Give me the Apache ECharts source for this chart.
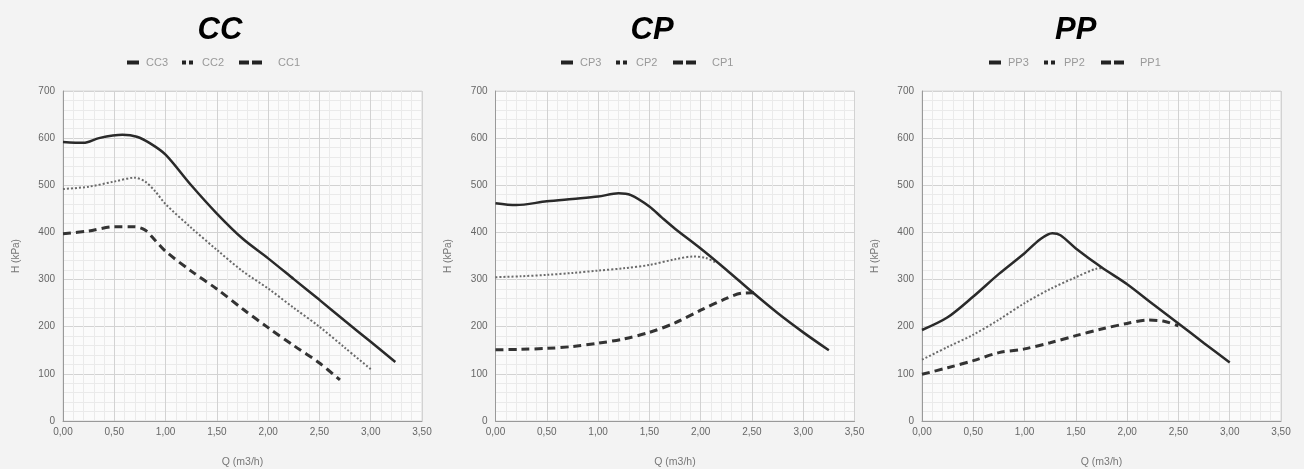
<!DOCTYPE html>
<html>
<head>
<meta charset="utf-8">
<script src="https://cdn.jsdelivr.net/npm/echarts@6/dist/echarts.min.js"></script>
<style>
  html, body { margin: 0; padding: 0; background: #f3f3f3; }
  #chart { width: 1304px; height: 469px; }
</style>
</head>
<body>
<div id="chart"></div>
<script>
// curve data: [Q (m3/h), H (kPa)]
const cc3 = [[0, 592], [0.2, 590], [0.35, 600], [0.58, 607], [0.72, 603], [0.85, 589], [1.0, 565], [1.25, 500], [1.5, 440], [1.75, 387], [2.0, 345], [2.25, 301], [2.5, 257], [2.75, 212], [3.0, 168], [3.24, 125]]
const cc2 = [[0, 492], [0.25, 497], [0.5, 508], [0.7, 516], [0.8, 508], [0.9, 487], [1.0, 460], [1.25, 410], [1.5, 363], [1.75, 318], [2.0, 281], [2.25, 240], [2.5, 200], [2.75, 155], [3.0, 110]]
const cc1 = [[0, 397], [0.25, 403], [0.5, 412], [0.7, 412], [0.8, 405], [0.9, 383], [1.0, 360], [1.25, 318], [1.5, 280], [1.75, 238], [2.0, 198], [2.25, 160], [2.5, 123], [2.7, 87]]

const cp3 = [[0, 462], [0.2, 458], [0.5, 466], [0.75, 471], [1.0, 476], [1.2, 483], [1.32, 479], [1.5, 455], [1.62, 432], [1.75, 408], [2.0, 366], [2.25, 321], [2.5, 274], [2.75, 229], [3.0, 188], [3.25, 150]]
const cp2 = [[0, 305], [0.25, 307], [0.5, 310], [0.75, 314], [1.0, 319], [1.25, 324], [1.5, 331], [1.75, 343], [1.93, 349], [2.05, 346], [2.14, 337]]
const cp1 = [[0, 151], [0.25, 152], [0.5, 154], [0.75, 158], [1.0, 165], [1.25, 174], [1.5, 188], [1.75, 208], [2.0, 235], [2.25, 260], [2.4, 271], [2.52, 272]]

const pp3 = [[0, 193], [0.25, 220], [0.5, 264], [0.75, 312], [1.0, 356], [1.15, 385], [1.27, 398], [1.35, 394], [1.5, 366], [1.75, 326], [2.0, 290], [2.25, 248], [2.5, 207], [2.75, 165], [3.0, 124]]
const pp2 = [[0, 130], [0.25, 157], [0.5, 183], [0.75, 215], [1.0, 250], [1.25, 280], [1.5, 305], [1.7, 323], [1.76, 324]]
const pp1 = [[0, 99], [0.25, 113], [0.5, 128], [0.75, 145], [1.0, 153], [1.25, 166], [1.5, 181], [1.75, 195], [2.0, 207], [2.2, 214], [2.35, 212], [2.5, 202]]

const titles = ['CC', 'CP', 'PP']
const names = [['CC3', 'CC2', 'CC1'], ['CP3', 'CP2', 'CP1'], ['PP3', 'PP2', 'PP1']]
const curves = [[cc3, cc2, cc1], [cp3, cp2, cp1], [pp3, pp2, pp1]]
const yTicks = [0, 100, 200, 300, 400, 500, 600, 700]

const lefts = [63, 495.5, 922]
const titleLeft = [192.5, 625.5, 1050]
const legendStart = [122, 556, 984]

const styles = [
  { color: '#2a2a2a', width: 2.5, type: 'solid' },
  { color: '#6a6a6a', width: 2, type: [2, 2] },
  { color: '#333', width: 3, type: [8, 5] },
]
// legend icons; trailing move keeps the box wide so the text sits further right
const legendItems = [
  { dx: 0, w: 14, icon: 'path://M0,0h12v4h-12zM14,4' },
  { dx: 55, w: 15, icon: 'path://M0,0h4v4h-4zM7,0h4v4h-4zM15,4' },
  { dx: 112, w: 34, icon: 'path://M0,0h10v4h-10zM13,0h10v4h-10zM34,4' },
]

const chart = echarts.init(document.getElementById('chart'))

const legends = []
names.forEach((n, i) => {
  n.forEach((name, k) => {
    legends.push({
      data: [{ name, icon: legendItems[k].icon }],
      left: legendStart[i] + legendItems[k].dx,
      top: 52,
      itemWidth: legendItems[k].w,
      itemHeight: 4,
      symbolKeepAspect: false,
      textStyle: { color: '#999', fontSize: 11, fontFamily: 'Liberation Sans' },
      itemStyle: { color: '#222' },
    })
  })
})

const option = {
  backgroundColor: '#f3f3f3',
  animation: false,
  title: titles.map((t, i) => ({
    text: t,
    left: titleLeft[i],
    top: 10,
    textStyle: {
      fontFamily: 'Liberation Sans',
      fontSize: 31,
      fontWeight: 'bold',
      fontStyle: 'italic',
      color: '#000',
    },
  })),
  legend: legends,
  grid: lefts.map((l) => ({
    left: l,
    top: 91,
    width: 359,
    height: 330,
    outerBoundsMode: 'none',
    show: true,
    backgroundColor: '#fbfbfb',
    borderColor: '#d8d8d8',
    borderWidth: 1,
  })),
  xAxis: lefts.map((l, i) => ({
    gridIndex: i,
    type: 'value',
    min: 0,
    max: 3.5,
    interval: 0.5,
    name: 'Q (m3/h)',
    nameLocation: 'middle',
    nameGap: 36,
    nameTextStyle: { color: '#777', fontSize: 10.5, fontFamily: 'Liberation Sans' },
    axisLine: { show: true, lineStyle: { color: '#999', width: 1 } },
    axisTick: { show: false },
    axisLabel: {
      color: '#666',
      fontSize: 10,
      fontFamily: 'Liberation Sans',
      margin: 6,
      formatter: (v) => v.toFixed(2).replace('.', ','),
    },
    splitLine: { show: true, lineStyle: { color: '#d2d2d2', width: 1 } },
    minorTick: { show: false, splitNumber: 5 },
    minorSplitLine: { show: true, lineStyle: { color: '#eaeaea', width: 1 } },
  })),
  yAxis: lefts.map((l, i) => ({
    gridIndex: i,
    type: 'value',
    min: yTicks[0],
    max: yTicks[yTicks.length - 1],
    interval: 100,
    name: 'H (kPa)',
    nameLocation: 'middle',
    nameGap: 42,
    nameRotate: 90,
    nameTextStyle: { color: '#777', fontSize: 10, fontFamily: 'Liberation Sans' },
    axisLine: { show: true, lineStyle: { color: '#999', width: 1 } },
    axisTick: { show: false },
    axisLabel: { color: '#666', fontSize: 10, fontFamily: 'Liberation Sans', margin: 8 },
    splitLine: { show: true, lineStyle: { color: '#d2d2d2', width: 1 } },
    minorTick: { show: false, splitNumber: 5 },
    minorSplitLine: { show: true, lineStyle: { color: '#eaeaea', width: 1 } },
  })),
  series: [],
}

curves.forEach((group, i) => {
  group.forEach((data, k) => {
    option.series.push({
      name: names[i][k],
      type: 'line',
      xAxisIndex: i,
      yAxisIndex: i,
      data,
      smooth: 0.3,
      symbol: 'none',
      z: 5 - k,
      lineStyle: styles[k],
      itemStyle: { color: styles[k].color },
    })
  })
})

chart.setOption(option)
</script>
</body>
</html>
